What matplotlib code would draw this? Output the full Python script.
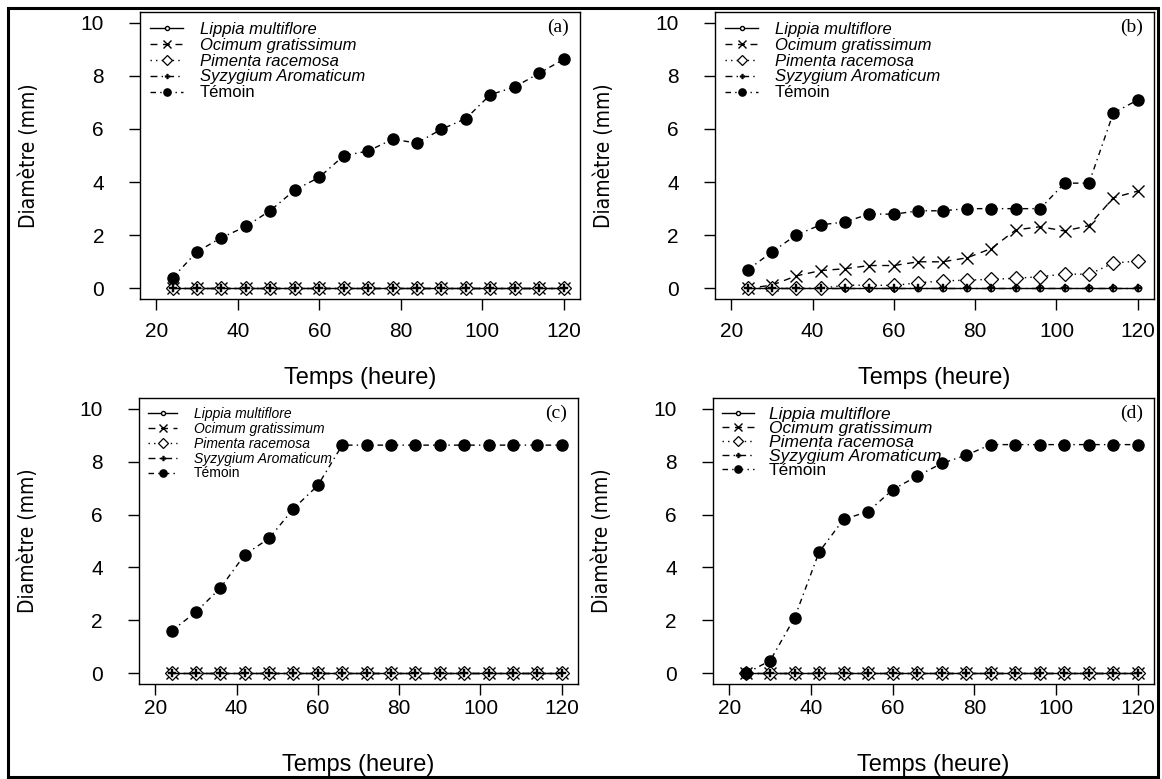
import matplotlib
matplotlib.use("Agg")
import matplotlib.pyplot as plt
from matplotlib.patches import Rectangle

plt.rcParams["font.family"] = ["Liberation Sans", "DejaVu Sans"]

hours = [24, 30, 36, 42, 48, 54, 60, 66, 72, 78, 84, 90, 96, 102, 108, 114, 120]
series_names = ["Lippia multiflore", "Ocimum gratissimum", "Pimenta racemosa",
                "Syzygium Aromaticum", "Témoin"]
zeros = [0.0] * 17

# panel (a)
a_lippia = zeros
a_ocimum = zeros
a_pimenta = zeros
a_syzygium = zeros
a_temoin = [0.40, 1.38, 1.91, 2.33, 2.93, 3.70, 4.18, 4.99, 5.17, 5.61, 5.47, 5.99,
            6.39, 7.29, 7.58, 8.10, 8.62]
# panel (b)
b_lippia = zeros
b_ocimum = [0.0, 0.12, 0.47, 0.67, 0.74, 0.86, 0.86, 1.00, 1.00, 1.15, 1.50, 2.20,
            2.32, 2.16, 2.36, 3.41, 3.66]
b_pimenta = [0.0, 0.0, 0.0, 0.0, 0.12, 0.12, 0.11, 0.21, 0.28, 0.31, 0.34, 0.38,
             0.44, 0.54, 0.53, 0.95, 1.03]
b_syzygium = zeros
b_temoin = [0.69, 1.37, 2.01, 2.39, 2.50, 2.80, 2.79, 2.92, 2.92, 3.00, 3.00, 3.00,
            3.00, 3.96, 3.96, 6.60, 7.09]
# panel (c)
c_lippia = zeros
c_ocimum = zeros
c_pimenta = zeros
c_syzygium = zeros
c_temoin = [1.60, 2.32, 3.22, 4.48, 5.10, 6.22, 7.10, 8.62, 8.62, 8.62, 8.62, 8.62,
            8.62, 8.62, 8.62, 8.62, 8.62]
# panel (d)
d_lippia = zeros
d_ocimum = zeros
d_pimenta = zeros
d_syzygium = zeros
d_temoin = [0.0, 0.48, 2.11, 4.59, 5.82, 6.11, 6.94, 7.45, 7.93, 8.24, 8.64, 8.64,
            8.64, 8.64, 8.64, 8.64, 8.64]

panel_labels = ["(a)", "(b)", "(c)", "(d)"]
x_ticks = [20, 40, 60, 80, 100, 120]
y_ticks = [0, 2, 4, 6, 8, 10]

panels = [
    (a_lippia, a_ocimum, a_pimenta, a_syzygium, a_temoin),
    (b_lippia, b_ocimum, b_pimenta, b_syzygium, b_temoin),
    (c_lippia, c_ocimum, c_pimenta, c_syzygium, c_temoin),
    (d_lippia, d_ocimum, d_pimenta, d_syzygium, d_temoin),
]

W, H = 1162, 779
fig = plt.figure(figsize=(W / 100, H / 100), dpi=100)
PT = 72 / 100  # points per pixel


def rect(l, t, r, b):
    return [l / W, 1 - b / H, (r - l) / W, (b - t) / H]


positions = [rect(140, 12, 580, 299), rect(715, 12, 1154, 299),
             rect(139, 398, 578, 684), rect(713, 398, 1154, 684)]
# per panel: fontsize, labelspacing, handlelength, handletextpad, borderpad
legend_cfg = [(12.0, 0.05, 2.0, 1.0, 0.5), (12.0, 0.05, 2.0, 1.0, 0.5),
              (10.0, 0.06, 2.1, 1.2, 0.55), (12.5, -0.06, 1.85, 0.85, 0.4)]
xtick_pad = [12, 12, 4, 4]
xlabel_pad = [26, 26, 36, 36]

styles = [
    dict(linestyle="-", marker="o", ms=4.5, mfc="white", mec="black", mew=1.0),
    dict(linestyle=(0, (5, 4)), marker="x", ms=8, mfc="none", mec="black", mew=1.0),
    dict(linestyle=(0, (1, 3)), marker="D", ms=7.5, mfc="white", mec="black", mew=0.9),
    dict(linestyle=(0, (5, 3, 1, 3)), marker="P", ms=5.5, mfc="black", mec="black", mew=0.3),
    dict(linestyle=(0, (4, 3, 1, 3)), marker="o", ms=8, mfc="black", mec="black", mew=1.0),
]

for i, (data, pos) in enumerate(zip(panels, positions)):
    ax = fig.add_axes(pos)
    handles = []
    for j, (name, vals) in enumerate(zip(series_names, data)):
        st = styles[j]
        h, = ax.plot(hours, vals, color="black", lw=1.0, zorder=3 + j, **st)
        handles.append(h)
    ax.set_xlim(16, 124)
    ax.set_ylim(-0.4, 10.4)
    ax.set_xticks(x_ticks)
    ax.set_yticks(y_ticks)
    ax.tick_params(axis="both", direction="out", length=11 * PT, width=1.0,
                   labelsize=15, colors="black")
    ax.tick_params(axis="x", pad=xtick_pad[i] * PT)
    ax.tick_params(axis="y", pad=25 * PT)
    for s in ax.spines.values():
        s.set_linewidth(1.0)
    ax.set_xlabel("Temps (heure)", fontsize=17, labelpad=xlabel_pad[i] * PT)
    ax.set_ylabel("Diamètre (mm)", fontsize=15, family="DejaVu Sans",
                  fontstretch="condensed", labelpad=42 * PT)
    fs, ls, hl, htp, bp = legend_cfg[i]
    leg = ax.legend(handles, series_names, loc="upper left", frameon=False,
                    fontsize=fs, handlelength=hl, handletextpad=htp,
                    labelspacing=ls, borderaxespad=0.1, borderpad=bp,
                    markerscale=0.65)
    for t, name in zip(leg.get_texts(), series_names):
        if name != "Témoin":
            t.set_style("italic")
    ax.text(0.975, 0.975, panel_labels[i], transform=ax.transAxes, ha="right",
            va="top", fontsize=14, family="Liberation Serif")

fig.patches.append(Rectangle((8 / W, 1 - 777 / H), (1158 - 8) / W, (777 - 8) / H,
                             transform=fig.transFigure, fill=False, lw=2.2,
                             edgecolor="black"))

fig.savefig("out.png", dpi=100)
